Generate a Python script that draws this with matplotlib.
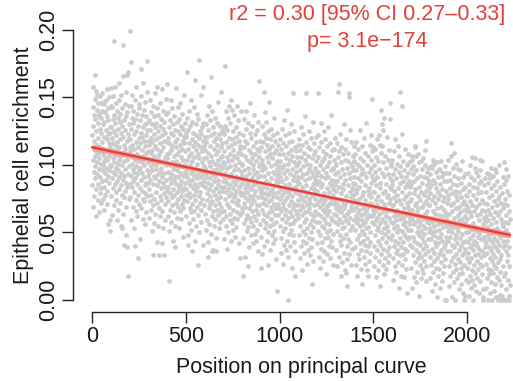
import numpy as np
import matplotlib
matplotlib.use("Agg")
import matplotlib.pyplot as plt

# epithelial enrichment (x1000), one value per cell, in order along the principal curve
enr_0_499 = [
    122, 85, 143, 104, 158, 69, 129, 112, 95, 137, 77, 118, 167, 90, 107, 149, 99, 134, 62, 125,
    110, 82, 155, 102, 141, 93, 115, 152, 74, 131, 109, 86, 146, 120, 65, 138, 97, 136, 105, 127,
    79, 151, 91, 113, 101, 135, 83, 124, 146, 72, 117, 88, 153, 96, 140, 108, 75, 130, 100, 147,
    84, 121, 67, 145, 103, 132, 94, 139, 106, 139, 78, 126, 89, 148, 111, 98, 156, 81, 119, 71,
    136, 104, 142, 92, 123, 56, 133, 107, 150, 87, 116, 96, 128, 59, 114, 100, 124, 51, 144, 157,
    99, 128, 77, 111, 143, 90, 120, 63, 134, 105, 116, 83, 151, 95, 125, 70, 192, 137, 102, 107,
    86, 158, 93, 131, 74, 114, 98, 146, 80, 122, 110, 59, 140, 88, 117, 101, 135, 67, 127, 96,
    161, 82, 113, 104, 148, 91, 132, 72, 119, 106, 138, 85, 124, 55, 152, 94, 53, 109, 78, 142,
    100, 129, 64, 121, 89, 189, 166, 103, 41, 133, 76, 115, 92, 145, 97, 126, 81, 112, 154, 48,
    87, 136, 69, 167, 118, 104, 139, 39, 84, 123, 93, 169, 18, 108, 130, 75, 144, 99, 120, 86, 113,
    119, 76, 110, 199, 144, 92, 127, 59, 176, 135, 101, 115, 84, 152, 97, 106, 69, 131, 88, 140,
    95, 123, 53, 112, 80, 148, 40, 104, 90, 134, 66, 117, 99, 158, 74, 125, 93, 108, 62, 138,
    86, 113, 31, 103, 129, 78, 145, 96, 120, 71, 105, 142, 83, 116, 45, 133, 98, 124, 171, 89,
    151, 68, 111, 102, 137, 81, 121, 94, 161, 75, 128, 60, 107, 91, 141, 100, 118, 73, 130, 85,
    114, 56, 147, 79, 122, 109, 65, 136, 87, 126, 177, 96, 154, 77, 132, 92, 118, 102, 87, 110,
    82, 133, 94, 115, 61, 126, 104, 73, 148, 89, 109, 67, 120, 99, 139, 78, 111, 51, 130, 96,
    117, 86, 144, 33, 70, 101, 123, 92, 136, 75, 107, 57, 128, 90, 114, 64, 153, 97, 119, 80,
    131, 100, 158, 43, 112, 85, 142, 72, 105, 125, 93, 55, 137, 88, 121, 33, 68, 108, 77, 146,
    95, 116, 62, 129, 83, 110, 98, 134, 74, 42, 122, 91, 156, 66, 113, 87, 127, 53, 103, 140,
    79, 118, 94, 33, 132, 71, 106, 84, 124, 59, 102, 89, 138, 76, 149, 100, 81, 117, 108, 160,
    105, 62, 120, 84, 139, 95, 73, 128, 109, 51, 14, 116, 90, 133, 79, 100, 67, 124, 87, 148,
    58, 111, 93, 76, 142, 102, 70, 114, 97, 130, 82, 44, 122, 89, 107, 65, 136, 78, 98, 117,
    55, 126, 92, 39, 113, 72, 157, 86, 103, 61, 119, 96, 132, 80, 108, 69, 143, 91, 125, 75,
    110, 53, 101, 134, 83, 115, 66, 94, 123, 85, 146, 60, 106, 77, 129, 88, 112, 71, 138, 99,
    81, 118, 47, 127, 92, 104, 68, 121, 83, 152, 74, 116, 95, 131, 100, 87, 110, 124, 93, 78,
]
enr_500_999 = [
    82, 121, 62, 104, 91, 135, 73, 169, 112, 48, 126, 41, 97, 79, 116, 57, 107, 88, 140, 68,
    100, 85, 129, 76, 94, 148, 65, 109, 52, 36, 119, 89, 103, 71, 132, 83, 114, 60, 95, 124,
    78, 92, 143, 66, 106, 44, 117, 163, 86, 98, 74, 130, 81, 111, 55, 122, 90, 101, 69, 138,
    84, 115, 63, 108, 93, 26, 134, 77, 120, 50, 178, 105, 87, 125, 72, 96, 80, 152, 58, 113,
    91, 123, 67, 102, 75, 128, 85, 110, 41, 118, 158, 94, 131, 99, 114, 88, 105, 70, 96, 121,
    111, 64, 98, 84, 130, 52, 117, 91, 105, 74, 137, 59, 94, 121, 79, 43, 109, 87, 32, 126,
    68, 102, 82, 144, 56, 114, 90, 71, 133, 77, 99, 49, 165, 122, 85, 107, 36, 62, 93, 140,
    73, 103, 66, 128, 81, 96, 37, 118, 88, 112, 55, 124, 78, 101, 70, 135, 92, 60, 108, 83,
    120, 46, 36, 115, 75, 97, 131, 67, 104, 86, 147, 63, 110, 89, 72, 123, 80, 100, 53, 129,
    76, 95, 119, 58, 106, 69, 154, 84, 113, 65, 125, 98, 116, 81, 107, 92, 127, 60, 102, 88,
    84, 123, 66, 101, 45, 110, 89, 173, 129, 75, 94, 55, 117, 80, 140, 62, 98, 71, 106, 38,
    126, 87, 113, 50, 103, 82, 135, 69, 144, 91, 120, 77, 59, 108, 85, 131, 64, 99, 44, 115,
    79, 93, 148, 57, 104, 73, 141, 119, 88, 52, 111, 83, 125, 67, 96, 76, 137, 61, 107, 86,
    47, 116, 78, 100, 128, 72, 92, 54, 121, 81, 105, 65, 144, 89, 60, 109, 74, 97, 133, 70,
    102, 42, 118, 84, 90, 124, 63, 112, 80, 31, 114, 140, 95, 108, 78, 86, 100, 113, 68, 92,
    101, 65, 122, 79, 89, 18, 46, 113, 72, 134, 57, 96, 83, 118, 69, 32, 107, 76, 127, 60,
    92, 86, 140, 51, 104, 80, 63, 116, 74, 87, 131, 54, 25, 98, 68, 111, 39, 94, 84, 124,
    61, 102, 77, 146, 48, 109, 82, 71, 120, 58, 90, 75, 129, 66, 105, 42, 97, 85, 114, 55,
    100, 78, 137, 62, 93, 73, 123, 49, 108, 81, 88, 67, 117, 44, 103, 86, 59, 126, 70, 95,
    52, 112, 76, 132, 64, 91, 36, 106, 99, 83, 110, 70, 162, 92, 118, 56, 87, 101, 79, 24,
    81, 113, 47, 96, 67, 129, 76, 104, 34, 117, 84, 59, 100, 72, 123, 40, 92, 154, 64, 110,
    79, 139, 53, 98, 75, 120, 57, 88, 70, 132, 44, 106, 83, 62, 115, 26, 94, 78, 125, 50,
    102, 73, 112, 65, 87, 147, 55, 108, 80, 37, 119, 69, 90, 60, 127, 74, 99, 48, 114, 82,
    66, 105, 42, 95, 77, 122, 56, 85, 71, 135, 51, 109, 79, 63, 101, 45, 93, 118, 68, 89,
    58, 111, 30, 97, 76, 124, 86, 7, 103, 71, 92, 115, 63, 80, 99, 88, 108, 68, 95, 84,
]
enr_1000_1499 = [
    91, 55, 119, 75, 103, 35, 82, 112, 66, 46, 98, 78, 127, 60, 88, 69, 27, 108, 72, 116,
    51, 94, 80, 133, 41, 100, 63, 85, 53, 122, 74, 105, 37, 90, 67, 114, 58, 81, 141, 44,
    96, 76, 109, 61, 32, 0, 101, 70, 124, 49, 86, 79, 117, 56, 93, 65, 40, 104, 73, 111,
    52, 83, 130, 62, 97, 24, 107, 77, 118, 48, 89, 68, 153, 57, 102, 71, 125, 43, 92, 80,
    18, 113, 59, 84, 36, 99, 66, 110, 84, 95, 70, 106, 88, 64, 100, 79, 115, 91, 74, 87,
    61, 102, 74, 119, 48, 87, 67, 111, 31, 96, 78, 55, 128, 70, 91, 40, 106, 76, 63, 115,
    22, 84, 51, 99, 69, 123, 44, 93, 73, 58, 109, 35, 81, 104, 65, 136, 49, 89, 77, 42,
    117, 60, 85, 153, 27, 101, 71, 94, 53, 113, 66, 80, 37, 107, 75, 97, 46, 125, 68, 90,
    56, 33, 112, 72, 100, 50, 83, 64, 120, 39, 12, 95, 77, 59, 105, 45, 86, 132, 54, 92,
    29, 108, 70, 82, 62, 116, 98, 81, 110, 66, 89, 75, 103, 58, 92, 79, 121, 86, 71, 95,
    81, 42, 153, 95, 64, 122, 51, 106, 73, 32, 88, 58, 113, 69, 100, 24, 77, 48, 117, 62,
    92, 38, 84, 131, 55, 75, 103, 43, 86, 67, 110, 29, 97, 71, 53, 125, 60, 79, 36, 105,
    65, 90, 46, 119, 74, 19, 94, 57, 108, 68, 83, 50, 114, 63, 99, 34, 76, 70, 128, 47,
    91, 40, 102, 66, 80, 56, 116, 31, 87, 72, 107, 52, 96, 61, 137, 44, 85, 75, 39, 111,
    59, 89, 49, 98, 26, 82, 97, 78, 112, 64, 88, 71, 104, 93, 58, 120, 85, 74, 101, 68,
    63, 100, 37, 81, 71, 116, 51, 88, 25, 106, 67, 56, 154, 95, 75, 32, 110, 60, 160, 84,
    44, 123, 69, 48, 91, 18, 102, 65, 79, 41, 113, 58, 74, 53, 97, 28, 86, 72, 108, 46,
    82, 62, 130, 35, 93, 68, 54, 104, 22, 89, 70, 112, 49, 77, 59, 119, 20, 40, 98, 64,
    73, 30, 10, 103, 57, 85, 45, 109, 66, 94, 150, 153, 34, 80, 52, 126, 61, 90, 43, 76,
    26, 101, 69, 117, 55, 83, 38, 99, 72, 87, 96, 82, 107, 67, 78, 114, 59, 91, 74, 103,
    86, 39, 73, 108, 52, 62, 96, 26, 79, 69, 117, 45, 82, 57, 101, 18, 90, 65, 34, 112,
    60, 75, 48, 99, 30, 84, 67, 126, 42, 71, 55, 105, 23, 93, 63, 37, 88, 59, 114, 51,
    77, 12, 97, 68, 44, 103, 56, 80, 32, 120, 64, 49, 94, 27, 74, 58, 109, 41, 85, 66,
    36, 91, 53, 131, 61, 70, 46, 100, 22, 81, 69, 40, 18, 107, 54, 78, 29, 95, 63, 83,
    43, 115, 50, 72, 35, 98, 76, 87, 62, 122, 104, 71, 92, 58, 110, 149, 80, 67, 89, 113,
]
enr_1500_1999 = [
    63, 100, 40, 80, 25, 89, 56, 112, 66, 48, 95, 32, 74, 59, 106, 17, 85, 52, 70, 37,
    119, 61, 91, 44, 77, 22, 103, 54, 68, 29, 122, 97, 64, 83, 41, 115, 57, 10, 87, 141,
    50, 109, 34, 73, 114, 60, 94, 46, 130, 126, 26, 79, 65, 38, 102, 53, 71, 19, 135, 92,
    58, 81, 31, 107, 49, 69, 43, 98, 62, 23, 86, 55, 121, 36, 76, 66, 47, 93, 28, 78,
    51, 104, 39, 72, 61, 111, 33, 84, 134, 146, 75, 90, 58, 99, 67, 82, 45, 101, 70, 88,
    85, 48, 104, 31, 70, 57, 93, 15, 76, 62, 110, 40, 81, 53, 25, 97, 65, 44, 119, 35,
    73, 59, 90, 21, 78, 50, 101, 37, 67, 55, 114, 28, 83, 63, 42, 95, 9, 74, 52, 107,
    33, 87, 154, 60, 46, 99, 18, 71, 64, 39, 92, 51, 123, 26, 144, 80, 56, 34, 88, 61,
    103, 43, 75, 17, 68, 49, 96, 30, 84, 58, 38, 112, 54, 77, 23, 91, 63, 47, 100, 36,
    72, 5, 86, 45, 108, 52, 69, 94, 58, 79, 47, 88, 66, 102, 73, 56, 84, 61, 41, 97,
    52, 86, 24, 75, 60, 107, 104, 39, 67, 9, 93, 47, 63, 33, 99, 56, 79, 17, 88, 44,
    70, 114, 113, 28, 58, 82, 37, 107, 72, 13, 96, 50, 65, 42, 90, 21, 77, 54, 108, 31,
    68, 59, 3, 84, 48, 102, 35, 74, 57, 26, 92, 41, 62, 103, 16, 80, 51, 32, 97, 46,
    69, 23, 87, 55, 38, 105, 60, 20, 78, 49, 91, 29, 71, 43, 111, 34, 64, 53, 100, 118,
    14, 81, 40, 73, 25, 95, 58, 85, 66, 90, 45, 76, 61, 98, 36, 83, 57, 70, 50, 88,
    70, 32, 93, 53, 16, 79, 45, 99, 61, 26, 85, 50, 7, 74, 58, 98, 38, 66, 21, 89,
    48, 104, 29, 77, 55, 35, 101, 43, 64, 12, 87, 51, 72, 24, 95, 59, 40, 83, 2, 68,
    47, 102, 31, 80, 56, 18, 91, 42, 75, 52, 97, 34, 63, 23, 86, 46, 78, 9, 96, 57,
    37, 69, 28, 103, 49, 82, 14, 62, 44, 92, 33, 73, 54, 94, 20, 67, 39, 88, 58, 25,
    76, 41, 99, 30, 0, 65, 81, 47, 94, 60, 0, 36, 72, 55, 88, 44, 63, 78, 51, 104,
    44, 75, 25, 94, 52, 64, 10, 83, 36, 58, 18, 89, 47, 70, 29, 116, 107, 55, 41, 79,
    2, 66, 50, 98, 32, 72, 21, 86, 54, 13, 61, 39, 109, 92, 45, 81, 27, 57, 0, 77,
    48, 101, 34, 68, 23, 85, 53, 16, 74, 42, 97, 30, 63, 51, 90, 8, 69, 37, 80, 19,
    59, 46, 96, 28, 65, 55, 12, 87, 40, 76, 24, 60, 33, 103, 49, 71, 20, 82, 43, 56,
    5, 91, 35, 67, 26, 73, 0, 3, 62, 84, 38, 57, 93, 44, 70, 15, 78, 50, 66, 31,
]
enr_2000_end = [
    60, 24, 77, 43, 94, 13, 68, 50, 35, 86, 3, 55, 28, 81, 46, 100, 18, 65, 39, 73,
    9, 91, 52, 31, 62, 22, 106, 41, 70, 15, 84, 48, 37, 78, 0, 57, 26, 89, 44, 66,
    11, 98, 33, 105, 54, 20, 75, 42, 95, 7, 69, 51, 29, 83, 40, 63, 16, 92, 47, 34,
    79, 23, 59, 5, 87, 38, 71, 49, 96, 27, 104, 64, 14, 80, 45, 32, 88, 52, 19, 67,
    36, 103, 25, 74, 8, 56, 0, 0, 2, 61, 47, 85, 33, 72, 58, 90, 44, 66, 39, 52,
    42, 80, 27, 62, 9, 54, 94, 35, 71, 16, 48, 87, 23, 59, 0, 67, 39, 93, 19, 76,
    45, 31, 90, 5, 64, 49, 22, 83, 37, 56, 13, 98, 29, 69, 43, 0, 78, 34, 52, 92,
    20, 61, 7, 73, 46, 26, 85, 40, 97, 12, 65, 32, 50, 81, 2, 58, 24, 95, 38, 70,
    17, 53, 44, 88, 28, 75, 0, 63, 36, 100, 15, 51, 41, 77, 21, 66, 4, 84, 47, 30,
    72, 11, 60, 33, 0, 0, 1, 3, 57, 79, 44, 68, 25, 91, 55, 39, 86, 48, 71, 18,
    102, 41, 75, 20, 58, 0, 89, 36, 63, 8, 52, 97, 29, 70, 44, 0, 81, 15, 57, 33,
    92, 48, 3, 66, 25, 78, 39, 0, 60, 11,
]

x_ticks = [0, 500, 1000, 1500, 2000]
y_ticks = [0.00, 0.05, 0.10, 0.15, 0.20]
stat_line1 = "r2 = 0.30 [95% CI 0.27\u20130.33]"
stat_line2 = "p= 3.1e\u2212174"

plt.rcParams['font.family'] = ['Liberation Sans', 'DejaVu Sans']

enr = np.array(enr_0_499 + enr_500_999 + enr_1000_1499 + enr_1500_1999 + enr_2000_end) / 1000.0
pos = np.arange(len(enr))

# linear fit with 95% confidence band
slope, icpt = np.polyfit(pos, enr, 1)
resid = enr - (icpt + slope * pos)
n = len(pos)
s_err = np.sqrt(np.sum(resid ** 2) / (n - 2))
xs = np.linspace(pos.min(), pos.max(), 200)
fit = icpt + slope * xs
half = 1.96 * s_err * np.sqrt(1.0 / n + (xs - pos.mean()) ** 2 / np.sum((pos - pos.mean()) ** 2))

fig = plt.figure(figsize=(5.13, 3.81), dpi=100)
ax = fig.add_axes([0.1417, 0.1811, 0.8583, 0.769])
ax.scatter(pos, enr, s=12, c='#cccccc', linewidths=0, zorder=1)
ax.fill_between(xs, fit - half, fit + half, color='#f3a29b', lw=0, zorder=2)
ax.plot(xs, fit, color='#e2403a', lw=1.7, zorder=3)

ax.set_xlim(-104.7, 2247)
ax.set_ylim(-0.00889, 0.2081)
for side in ['top', 'right']:
    ax.spines[side].set_visible(False)
ax.spines['left'].set_bounds(0, 0.2)
ax.spines['bottom'].set_bounds(0, 2000)
for side in ['left', 'bottom']:
    ax.spines[side].set_linewidth(1.0)
    ax.spines[side].set_color('#222222')

ax.set_xticks(x_ticks)
ax.set_xticklabels([str(v) for v in x_ticks])
ax.set_yticks(y_ticks)
ax.set_yticklabels(['%.2f' % v for v in y_ticks], rotation=90, va='center')
ax.tick_params(length=8, width=1.0, color='#222222', labelsize=15.5, labelcolor='#1a1a1a')
ax.tick_params(axis='x', pad=2)
ax.tick_params(axis='y', pad=2)

fig.text(301 / 513, 1 - 373 / 381, 'Position on principal curve', fontsize=15.5,
         ha='center', va='baseline', color='#1a1a1a')
fig.text(24 / 513, 1 - 165 / 381, 'Epithelial cell enrichment', fontsize=15.5,
         ha='center', va='center', rotation=90, color='#1a1a1a')

fig.text(367 / 513, 1 - 20 / 381, stat_line1, fontsize=15.5, ha='center', va='baseline', color='#e2403a')
fig.text(367 / 513, 1 - 47 / 381, stat_line2, fontsize=15.5, ha='center', va='baseline', color='#e2403a')

fig.savefig('out.png', dpi=100)
